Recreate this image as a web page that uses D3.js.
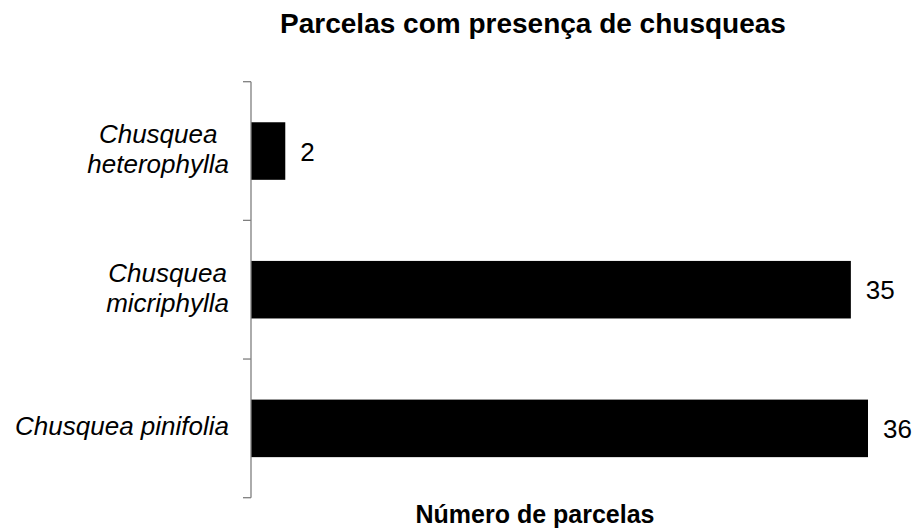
<!DOCTYPE html>
<html>
<head>
	<meta charset="utf-8">
	<script src="https://d3js.org/d3.v7.min.js"></script>
	<title>Parcelas com presença de chusqueas</title>
	<style type="text/css">
		body {
			margin: 0;
			background: #fff;
		}
		text {
			font-family: "Liberation Sans", Arial, sans-serif;
			fill: #000;
		}
	</style>
</head>
<body>
	<div id="chartContainer"></div>
	<script type="text/javascript">
		// dados
		var categories = ["Chusquea heterophylla", "Chusquea micriphylla", "Chusquea pinifolia"];
		var labelLines = [["Chusquea", "heterophylla"], ["Chusquea", "micriphylla"], ["Chusquea pinifolia"]];
		var values = [2, 35, 36];

		var width = 915, height = 532;
		var svg = d3.select("#chartContainer").append("svg")
			.attr("width", width)
			.attr("height", height);

		var x = d3.scaleLinear().domain([0, 36]).range([251, 868]);
		var y = d3.scaleBand().domain(categories)
			.range([81.7, 497.7])
			.paddingInner(0.585)
			.paddingOuter(0.2925);

		// titulo
		svg.append("text")
			.attr("x", 533)
			.attr("y", 33)
			.attr("text-anchor", "middle")
			.style("font-size", "28px")
			.style("font-weight", "bold")
			.text("Parcelas com presença de chusqueas");

		// barras
		svg.selectAll("rect.bar")
			.data(categories)
			.enter().append("rect")
			.attr("class", "bar")
			.attr("x", x(0))
			.attr("y", function (d) { return y(d); })
			.attr("width", function (d, i) { return x(values[i]) - x(0); })
			.attr("height", y.bandwidth())
			.attr("fill", "#000");

		// eixo y
		var step = y.step();
		var r0 = y.range()[0], r1 = y.range()[1];
		svg.append("line")
			.attr("x1", x(0)).attr("x2", x(0))
			.attr("y1", r0).attr("y2", r1)
			.attr("stroke", "#7f7f7f")
			.attr("stroke-width", 1.3);
		d3.range(categories.length + 1).forEach(function (i) {
			svg.append("line")
				.attr("x1", x(0) - 8).attr("x2", x(0))
				.attr("y1", r0 + i * step).attr("y2", r0 + i * step)
				.attr("stroke", "#7f7f7f")
				.attr("stroke-width", 1.3);
		});

		// rotulos das categorias
		var labelRight = 229;
		categories.forEach(function (c, i) {
			var lines = labelLines[i];
			var cy = y(c) + y.bandwidth() / 2;
			var t = svg.append("text")
				.attr("text-anchor", "middle")
				.style("font-size", "26px")
				.style("font-style", "italic");
			var spans = lines.map(function (l, j) {
				return t.append("tspan")
					.attr("y", cy + 7 - (lines.length - 1) * 15 + j * 30)
					.text(l);
			});
			var maxW = d3.max(spans, function (s) { return s.node().getComputedTextLength(); });
			spans.forEach(function (s) { s.attr("x", labelRight - maxW / 2); });
		});

		// valores
		svg.selectAll("text.val")
			.data(categories)
			.enter().append("text")
			.attr("class", "val")
			.attr("x", function (d, i) { return x(values[i]) + 15; })
			.attr("y", function (d) { return y(d) + y.bandwidth() / 2 + 9.5; })
			.style("font-size", "26px")
			.text(function (d, i) { return values[i]; });

		// titulo do eixo
		svg.append("text")
			.attr("x", 535)
			.attr("y", 523)
			.attr("text-anchor", "middle")
			.style("font-size", "25px")
			.style("font-weight", "bold")
			.text("Número de parcelas");
	</script>
</body>
</html>
